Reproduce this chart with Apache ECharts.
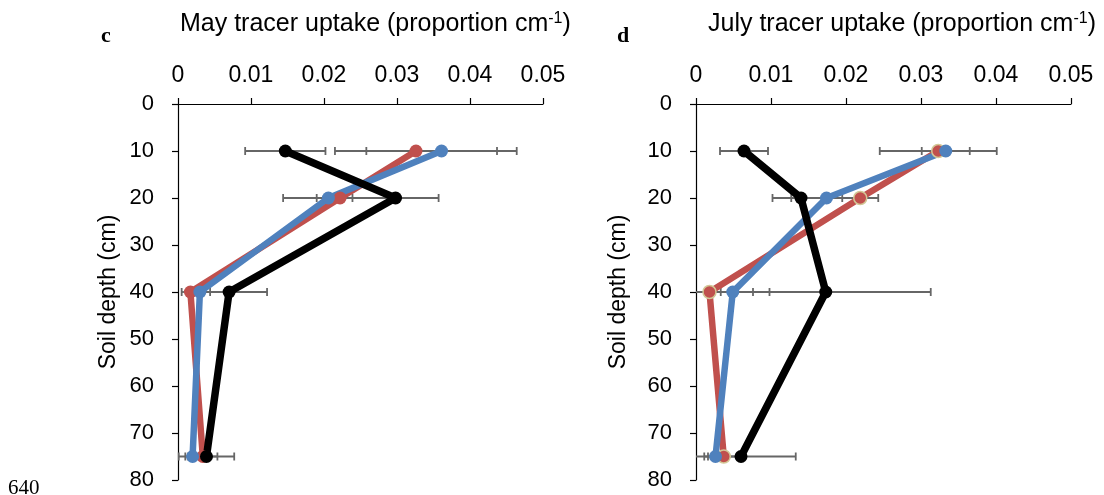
<!DOCTYPE html>
<html>
<head>
<meta charset="utf-8">
<title>Tracer uptake</title>
<script src="https://cdn.jsdelivr.net/npm/echarts@6/dist/echarts.min.js"></script>
<style>
  html, body { margin: 0; padding: 0; background: #fff; }
  #chart { width: 1104px; height: 495px; }
</style>
</head>
<body>
<div id="chart"></div>
<script>
// depths (cm) and axis ticks
var depths = [10, 20, 40, 75];
var xTicks = [0, 0.01, 0.02, 0.03, 0.04, 0.05];
var yTicks = [0, 10, 20, 30, 40, 50, 60, 70, 80];

// May (panel c)
var mayRed = [0.0326, 0.0222, 0.0017, 0.0034];
var mayBlue = [0.0361, 0.0206, 0.0030, 0.0020];
var mayBlack = [0.0147, 0.0298, 0.0070, 0.0039];
var mayRedErr = [0.0111, 0.0078, 0.0012, 0.0020];
var mayBlueErr = [0.0103, 0.0016, 0.0014, 0.0010];
var mayBlackErr = [0.0055, 0.0059, 0.0052, 0.0038];

// July (panel d)
var julRed = [0.0323, 0.0219, 0.0018, 0.0037];
var julBlue = [0.0333, 0.0174, 0.0049, 0.0026];
var julBlack = [0.0064, 0.0140, 0.0173, 0.0060];
var julRedErr = [0.0078, 0.0024, 0.0080, 0.0026];
var julBlueErr = [0.0032, 0.0047, 0.0027, 0.0010];
var julBlackErr = [0.0032, 0.0038, 0.0140, 0.0073];

var RED = '#C0504D', BLUE = '#4F81BD', BLACK = '#000000', ERR = '#666666';
var FONT = '"Liberation Sans", Arial, sans-serif';
var SERIF = '"Liberation Serif", "Times New Roman", serif';

// 点对 [x, depth]
function pts(vals){
  var out = [];
  for (var i = 0; i < vals.length; i++) out.push([vals[i], depths[i]]);
  return out;
}
function errPts(vals, errs){
  var out = [];
  for (var i = 0; i < vals.length; i++) out.push([vals[i], depths[i], errs[i]]);
  return out;
}

// 误差棒
function renderErr(params, api){
  var x = api.value(0), y = api.value(1), e = api.value(2);
  var lo = x - e, hi = x + e;
  var clipLo = lo < 0;
  if (clipLo) lo = 0;
  var p1 = api.coord([lo, y]);
  var p2 = api.coord([hi, y]);
  var st = { stroke: ERR, lineWidth: 1.8 };
  var kids = [{ type: 'line', shape: { x1: p1[0], y1: p1[1], x2: p2[0], y2: p2[1] }, style: st }];
  if (!clipLo) kids.push({ type: 'line', shape: { x1: p1[0], y1: p1[1] - 4, x2: p1[0], y2: p1[1] + 4 }, style: st });
  kids.push({ type: 'line', shape: { x1: p2[0], y1: p2[1] - 4, x2: p2[0], y2: p2[1] + 4 }, style: st });
  return { type: 'group', children: kids };
}

function errSeries(idx, vals, errs){
  return {
    type: 'custom', xAxisIndex: idx, yAxisIndex: idx, z: 1,
    renderItem: renderErr, encode: { x: 0, y: 1 },
    data: errPts(vals, errs), silent: true
  };
}
function lineSeries(idx, name, vals, color, width, border){
  return {
    type: 'line', name: name, xAxisIndex: idx, yAxisIndex: idx, z: 3,
    data: pts(vals), symbol: 'circle', symbolSize: 13,
    lineStyle: { color: color, width: width },
    itemStyle: border ? { color: color, borderColor: border, borderWidth: 1.5 } : { color: color, borderWidth: 0 }
  };
}

function xAxisCfg(idx){
  return {
    type: 'value', gridIndex: idx, position: 'top',
    min: 0, max: 0.05, interval: 0.01,
    axisLine: { show: true, lineStyle: { color: '#000', width: 1.2 } },
    axisTick: { show: true, length: 6, lineStyle: { color: '#000', width: 1.2 } },
    axisLabel: { color: '#000', fontSize: 23, fontFamily: FONT, margin: 17,
      formatter: function(v){ return xTicks.indexOf(+v.toFixed(2)) >= 0 ? String(+v.toFixed(2)) : ''; } },
    splitLine: { show: false }
  };
}
function yAxisCfg(idx, gap){
  return {
    type: 'value', gridIndex: idx, inverse: true,
    min: 0, max: 80, interval: 10,
    name: 'Soil depth (cm)', nameLocation: 'middle', nameRotate: 90, nameGap: gap,
    nameTextStyle: { color: '#000', fontSize: 23, fontFamily: FONT },
    axisLine: { show: true, lineStyle: { color: '#000', width: 1.2 } },
    axisTick: { show: true, length: 6, lineStyle: { color: '#000', width: 1.2 } },
    axisLabel: { color: '#000', fontSize: 22, fontFamily: FONT, margin: 24,
      formatter: function(v){ return yTicks.indexOf(v) >= 0 ? String(v) : ''; } },
    splitLine: { show: false }
  };
}

var supStyle = { fontSize: 16, fontFamily: FONT, fill: '#000', verticalAlign: 'top', padding: [0, 0, 10, 0] };

var chart = echarts.init(document.getElementById('chart'));
var option = {
  animation: false,
  backgroundColor: '#fff',
  grid: [
    { left: 178, top: 104, width: 365, height: 376 },
    { left: 696, top: 104, width: 375, height: 376 }
  ],
  xAxis: [xAxisCfg(0), xAxisCfg(1)],
  yAxis: [yAxisCfg(0, 58), yAxisCfg(1, 66)],
  graphic: [
    { type: 'text', left: 180, top: 11, style: {
      text: 'May tracer uptake (proportion cm{sup|-1})', fill: '#000', font: '25px ' + FONT,
      rich: { sup: supStyle } } },
    { type: 'text', left: 708, top: 11, style: {
      text: 'July tracer uptake (proportion cm{sup|-1})', fill: '#000', font: '25px ' + FONT,
      rich: { sup: supStyle } } },
    { type: 'text', left: 101, top: 25, style: { text: 'c', fill: '#000', font: 'bold 22px ' + SERIF } },
    { type: 'text', left: 617, top: 25, style: { text: 'd', fill: '#000', font: 'bold 22px ' + SERIF } },
    { type: 'text', left: 8, top: 478, style: { text: '640', fill: '#000', font: '21px ' + SERIF } }
  ],
  series: [
    errSeries(0, mayRed, mayRedErr),
    errSeries(0, mayBlue, mayBlueErr),
    errSeries(0, mayBlack, mayBlackErr),
    lineSeries(0, 'Red', mayRed, RED, 6.5),
    lineSeries(0, 'Blue', mayBlue, BLUE, 6.5),
    lineSeries(0, 'Black', mayBlack, BLACK, 7.5),
    errSeries(1, julRed, julRedErr),
    errSeries(1, julBlue, julBlueErr),
    errSeries(1, julBlack, julBlackErr),
    lineSeries(1, 'Red', julRed, RED, 6.5, '#d2c796'),
    lineSeries(1, 'Blue', julBlue, BLUE, 6.5),
    lineSeries(1, 'Black', julBlack, BLACK, 7.5)
  ]
};
chart.setOption(option);
</script>
</body>
</html>
